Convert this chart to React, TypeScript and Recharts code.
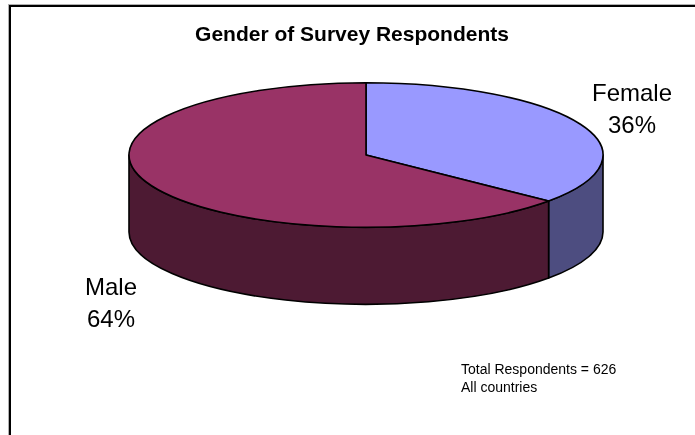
import { PieChart, Pie } from 'recharts';

const GENDERS = ['Female', 'Male'];
const SHARES = [36, 64];
const TOP_COLORS = ['#9999ff', '#993366'];
const SIDE_COLORS = ['#4d4d80', '#4d1a33'];
const TOTAL_RESPONDENTS = 626;

const data = GENDERS.map((name, i) => ({ name, value: SHARES[i] }));

// flattened-ellipse look of the old Excel 3D pie
const TILT = 0.305;
const DEPTH = 77;
const FONT = '"Liberation Sans", Arial, sans-serif';

// where the two-line labels sit (centre x, first baseline)
const LABEL_POS: Record<string, [number, number]> = {
  Female: [632, 101],
  Male: [111, 295],
};

const rad = (a: number) => (a * Math.PI) / 180;

function Slice3D(props: any) {
  const { cx, cy, outerRadius, startAngle, endAngle, index, name, percent } = props;
  const rx = outerRadius;
  const ry = outerRadius * TILT;
  const pt = (a: number, dy = 0) => [cx + rx * Math.cos(rad(a)), cy - ry * Math.sin(rad(a)) + dy];

  // angles go clockwise (decreasing) from startAngle to endAngle
  const hi = Math.max(startAngle, endAngle);
  const lo = Math.min(startAngle, endAngle);
  const big = hi - lo > 180 ? 1 : 0;
  const [sx, sy] = pt(hi);
  const [ex, ey] = pt(lo);
  const top = `M${cx},${cy} L${sx},${sy} A${rx},${ry} 0 ${big} 1 ${ex},${ey} Z`;

  // front wall: part of the slice between 0 and -180 deg
  const a1 = Math.min(hi, 0);
  const a2 = Math.max(lo, -180);
  let side = null;
  if (a1 > a2) {
    const [x1, y1] = pt(a1);
    const [x2, y2] = pt(a2);
    const d = `M${x1},${y1} A${rx},${ry} 0 0 1 ${x2},${y2} L${x2},${y2 + DEPTH} A${rx},${ry} 0 0 0 ${x1},${y1 + DEPTH} Z`;
    side = <path d={d} fill={SIDE_COLORS[index]} stroke="#000" strokeWidth={1.6} strokeLinejoin="round" />;
  }

  const [lx, ly] = LABEL_POS[name] ?? [cx, cy];
  return (
    <g>
      {side}
      <path d={top} fill={TOP_COLORS[index]} stroke="#000" strokeWidth={1.6} strokeLinejoin="round" />
      <text x={lx} y={ly} textAnchor="middle" fontFamily={FONT} fontSize={24} fill="#000">
        {name}
      </text>
      <text x={lx} y={ly + 32} textAnchor="middle" fontFamily={FONT} fontSize={24} fill="#000">
        {Math.round(percent * 100)}%
      </text>
    </g>
  );
}

export default function App() {
  return (
    <div>
      <div
        style={{
          position: 'fixed',
          left: 8,
          top: 4,
          width: 720,
          height: 460,
          borderLeft: '1px solid #b0b0b0',
          borderTop: '1px solid #b0b0b0',
        }}
      >
        <div style={{ width: '100%', height: '100%', borderLeft: '2px solid #000', borderTop: '2px solid #000' }} />
      </div>
      <div style={{ position: 'fixed', left: 0, top: 0 }}>
        <PieChart width={695} height={435} margin={{ top: 0, right: 0, bottom: 0, left: 0 }}>
          <text x={352} y={41} textAnchor="middle" fontFamily={FONT} fontWeight="bold" fontSize={21} fill="#000">
            Gender of Survey Respondents
          </text>
          <Pie
            data={data}
            dataKey="value"
            nameKey="name"
            cx={366}
            cy={155}
            outerRadius={237}
            startAngle={90}
            endAngle={-270}
            fill="none"
            stroke="none"
            label={Slice3D}
            labelLine={false}
            isAnimationActive={false}
          />
          <text x={461} y={374} fontFamily={FONT} fontSize={14} fill="#000">
            Total Respondents = {TOTAL_RESPONDENTS}
          </text>
          <text x={461} y={392} fontFamily={FONT} fontSize={14} fill="#000">
            All countries
          </text>
        </PieChart>
      </div>
    </div>
  );
}
